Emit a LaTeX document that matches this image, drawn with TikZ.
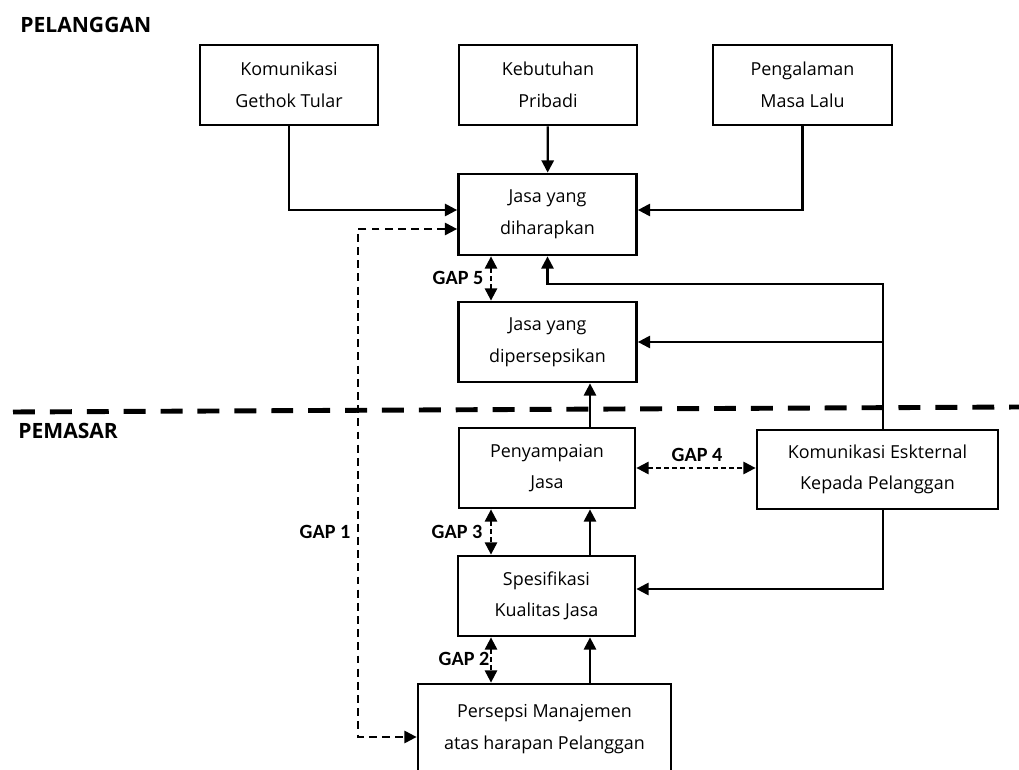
\documentclass[tikz,border=0pt]{standalone}
\usepackage{fontspec}
\setmainfont{Open Sans}
\newfontfamily\gapfont{Carlito}
\usetikzlibrary{arrows.meta}

\tikzstyle{element}=[rectangle, draw, line width=1.6pt, align=center,
                     inner sep=0pt, minimum width=3.56cm, minimum height=1.6cm,
                     font=\fontsize{10.2}{18}\selectfont]
\tikzstyle{link}=[line width=1.3pt, -{Triangle[length=7pt,width=7pt]}]
\tikzstyle{gapline}=[line width=1.2pt, dash pattern=on 2.8pt off 1.8pt,
                     {Triangle[length=7pt,width=7pt]}-{Triangle[length=7pt,width=7pt]}]
\tikzstyle{gaplabel}=[inner sep=0pt, font=\gapfont\bfseries\fontsize{11.5}{13}\selectfont]
\tikzstyle{side}=[anchor=west, inner sep=0pt, font=\bfseries\fontsize{12}{14}\selectfont]

\begin{document}
\begin{tikzpicture}[x=0.02cm, y=-0.02cm]
  \clip (0, 0) rectangle (1019, 770);

  %%%%%%%%%%%%%%%%%%%%%%%%%%%%%%
  %%%%%%%%%%%%%%%%%%%%%%%%%%%%%%
  % model

  %%%%%%%%%%%%%%%%%%%%%%%%%%%%%%
  % nodes
  % pelanggan
  \node (gethok) at (289, 85) [element] {Komunikasi\\Gethok Tular};
  \node (pribadi) at (548, 85) [element] {Kebutuhan\\Pribadi};
  \node (lalu) at (802.5, 85) [element, minimum width=3.58cm] {Pengalaman\\Masa Lalu};

  \node (harap) at (547.5, 214.5) [element, minimum height=1.62cm] {Jasa yang\\diharapkan};
  \node (persep) at (547.5, 342) [element] {Jasa yang\\dipersepsikan};

  % pemasar
  \node (sampai) at (547, 468) [element, minimum width=3.52cm] {Penyampaian\\Jasa};
  \node (eksternal) at (877.5, 469.5) [element, minimum width=4.82cm, minimum height=1.58cm] {Komunikasi Eskternal\\Kepada Pelanggan};
  \node (spesifik) at (546.5, 596) [element, minimum width=3.54cm] {Spesifikasi\\Kualitas Jasa};
  \node (manajemen) at (544.5, 729) [element, minimum width=5.06cm, minimum height=1.8cm] {Persepsi Manajemen\\atas harapan Pelanggan};

  %%%%%%%%%%%%%%%%%%%%%%%%%%%%%%
  % sides
  \node (pelanggan) at (20, 25) [side] {PELANGGAN};
  \node (pemasar) at (18, 431) [side] {PEMASAR};
  \coordinate (batasL) at (13, 412);
  \coordinate (batasR) at (1019, 407);
  \draw [line width=2.8pt, dash pattern=on 12.5pt off 8.5pt] (batasL) -- (batasR);

  %%%%%%%%%%%%%%%%%%%%%%%%%%%%%%
  % helper coordinates
  \coordinate (masuk) at (0, 210);
  \coordinate (belok) at (547.5, 284);
  \coordinate (kolE) at (883, 0);
  \coordinate (kolR) at (590, 0);
  \coordinate (kolL) at (491, 0);
  \coordinate (spek) at (0, 589);
  \coordinate (gapA) at (358, 229);
  \coordinate (gapB) at (358, 737);

  %%%%%%%%%%%%%%%%%%%%%%%%%%%%%%
  % links
  \draw [link] (gethok.south) |- (harap.west |- masuk);
  \draw [link] (pribadi) -- (harap);
  \draw [link] (lalu.south) |- (harap.east |- masuk);

  \draw [link] (kolE |- eksternal.north) |- (belok) -- (harap.south);
  \draw [link] (kolE |- persep.east) -- (persep.east);
  \draw [link] (kolE |- eksternal.south) |- (spesifik.east |- spek);

  \draw [link] (kolR |- sampai.north) -- (kolR |- persep.south);
  \draw [link] (kolR |- spesifik.north) -- (kolR |- sampai.south);
  \draw [link] (kolR |- manajemen.north) -- (kolR |- spesifik.south);

  %%%%%%%%%%%%%%%%%%%%%%%%%%%%%%
  % gaps
  \draw [gapline, dash pattern=on 4.5pt off 3pt] (harap.west |- gapA) -- (gapA) -- (gapB) -- (manajemen.west |- gapB);
  \draw [gapline] (kolL |- harap.south) -- (kolL |- persep.north);
  \draw [gapline] (sampai.east) -- (eksternal.west |- sampai.east);
  \draw [gapline] (kolL |- sampai.south) -- (kolL |- spesifik.north);
  \draw [gapline] (kolL |- spesifik.south) -- (kolL |- manajemen.north);

  \node (gap1) at (325, 532) [gaplabel] {GAP 1};
  \node (gap2) at (464, 659) [gaplabel] {GAP 2};
  \node (gap3) at (457, 532) [gaplabel] {GAP 3};
  \node (gap4) at (697, 455) [gaplabel] {GAP 4};
  \node (gap5) at (458, 278) [gaplabel] {GAP 5};

\end{tikzpicture}
\end{document}
